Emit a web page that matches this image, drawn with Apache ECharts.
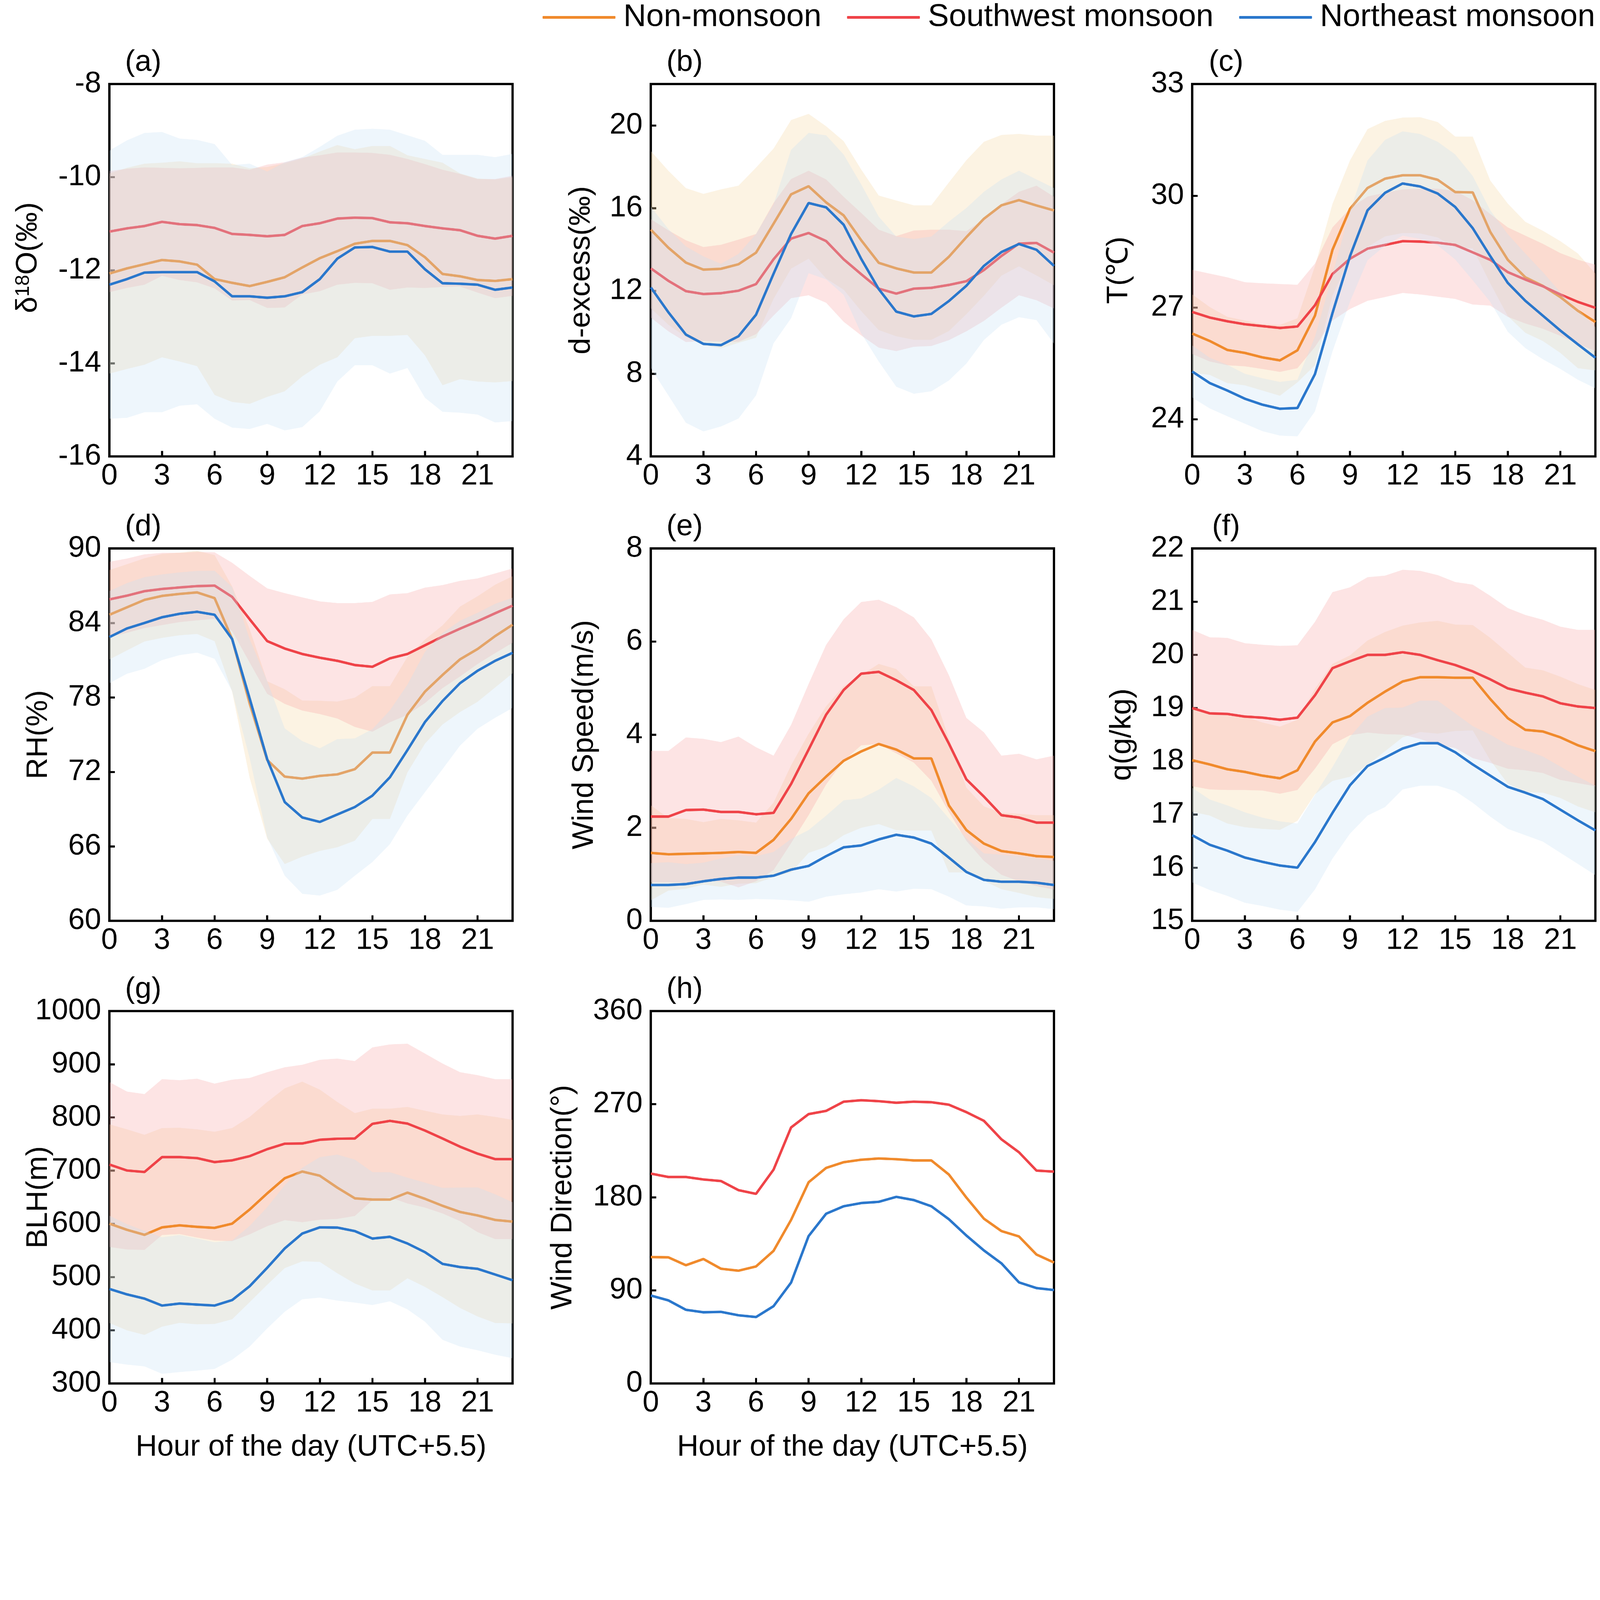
<!DOCTYPE html>
<html><head><meta charset="utf-8">
<script src="https://cdn.jsdelivr.net/npm/echarts@6/dist/echarts.min.js"></script>
<style>html,body{margin:0;padding:0;background:#fff;overflow:hidden}
#c{width:7004px;height:6436px;transform-origin:0 0;position:absolute;left:0;top:0}</style>
</head><body><div id="c"></div>
<script>
const hours = ['0','1','2','3','4','5','6','7','8','9','10','11','12','13','14','15','16','17','18','19','20','21','22','23'];
const seriesNames = ['Non-monsoon','Southwest monsoon','Northeast monsoon'];
const panelLetters = ['(a)','(b)','(c)','(d)','(e)','(f)','(g)','(h)'];

// (a) d18O
const aNon = [-12.07,-11.96,-11.87,-11.78,-11.81,-11.88,-12.19,-12.27,-12.34,-12.25,-12.15,-11.94,-11.74,-11.59,-11.43,-11.37,-11.37,-11.46,-11.72,-12.08,-12.13,-12.21,-12.23,-12.19];
const aSW  = [-11.17,-11.10,-11.05,-10.96,-11.01,-11.03,-11.09,-11.22,-11.24,-11.27,-11.24,-11.05,-10.99,-10.89,-10.87,-10.88,-10.97,-10.99,-11.05,-11.10,-11.14,-11.26,-11.32,-11.26];
const aNE  = [-12.31,-12.19,-12.05,-12.04,-12.04,-12.04,-12.24,-12.56,-12.56,-12.59,-12.56,-12.47,-12.19,-11.75,-11.51,-11.50,-11.60,-11.60,-11.98,-12.28,-12.29,-12.31,-12.42,-12.37];
const aNonSd = [2.15,2.16,2.16,2.09,2.15,2.18,2.49,2.56,2.53,2.47,2.45,2.34,2.29,2.28,2.03,2.04,2.04,1.93,2.11,2.39,2.21,2.18,2.18,2.19];
const aSWSd  = [1.30,1.28,1.26,1.16,1.20,1.23,1.30,1.43,1.40,1.54,1.56,1.47,1.46,1.42,1.40,1.40,1.45,1.38,1.33,1.26,1.21,1.22,1.28,1.29];
const aNESd  = [2.88,2.98,3.00,3.01,2.87,2.84,2.95,2.82,2.85,2.71,2.88,2.90,2.84,2.64,2.53,2.54,2.62,2.50,2.76,2.76,2.77,2.79,2.85,2.87];

// (b) d-excess
const bNon = [14.96,14.09,13.37,13.03,13.07,13.29,13.85,15.25,16.67,17.06,16.28,15.65,14.45,13.36,13.09,12.89,12.89,13.65,14.60,15.49,16.14,16.39,16.13,15.89];
const bSW  = [13.09,12.49,11.99,11.85,11.89,12.01,12.33,13.53,14.53,14.80,14.41,13.53,12.81,12.11,11.87,12.11,12.15,12.29,12.47,13.01,13.69,14.29,14.32,13.85];
const bNE  = [12.17,10.97,9.89,9.44,9.38,9.81,10.85,12.83,14.75,16.25,16.04,15.20,13.55,12.09,11.00,10.77,10.89,11.51,12.25,13.21,13.88,14.27,13.99,13.21];
const bNonSd = [3.80,3.72,3.60,3.66,3.84,3.80,4.11,3.63,3.59,3.50,3.68,3.59,3.42,3.25,3.28,3.25,3.25,3.59,3.72,3.72,3.40,3.20,3.38,3.62];
const bSWSd  = [2.38,2.44,2.46,2.27,2.34,2.47,2.42,2.72,2.88,3.01,2.98,3.02,2.96,2.85,2.78,2.81,2.81,2.67,2.42,2.46,2.50,2.50,2.77,2.70];
const bNESd  = [3.90,4.02,4.26,4.23,3.93,3.98,3.90,3.36,4.07,3.39,3.48,3.39,3.60,3.50,3.63,3.74,3.74,3.84,3.76,3.58,3.51,3.54,3.40,3.76];

// (c) T
const cNon = [26.30,26.10,25.86,25.78,25.66,25.58,25.85,26.78,28.55,29.65,30.21,30.46,30.55,30.55,30.43,30.10,30.09,29.03,28.28,27.81,27.58,27.28,26.91,26.61];
const cSW  = [26.88,26.73,26.63,26.55,26.50,26.45,26.49,27.06,27.90,28.31,28.58,28.68,28.78,28.77,28.74,28.68,28.48,28.28,27.95,27.75,27.57,27.35,27.15,26.99];
const cNE  = [25.28,24.97,24.77,24.55,24.39,24.28,24.30,25.21,26.85,28.38,29.61,30.08,30.33,30.25,30.06,29.70,29.13,28.38,27.66,27.18,26.78,26.38,26.01,25.65];
const cNonSd = [1.05,0.91,0.89,0.87,0.89,0.95,0.86,1.33,1.23,1.30,1.58,1.55,1.55,1.56,1.55,1.49,1.50,1.38,1.51,1.49,1.48,1.50,1.54,1.30];
const cSWSd  = [1.13,1.18,1.18,1.13,1.15,1.18,1.12,1.12,1.25,1.35,1.40,1.40,1.39,1.42,1.45,1.45,1.40,1.23,1.20,1.18,1.14,1.11,1.13,1.16];
const cNESd  = [0.70,0.68,0.69,0.67,0.71,0.72,0.76,1.00,1.03,1.22,1.34,1.42,1.40,1.41,1.39,1.41,1.40,1.23,1.31,1.27,1.17,1.03,0.95,0.82];

// (d) RH
const dNon = [84.66,85.26,85.86,86.18,86.34,86.46,86.00,82.70,77.51,72.96,71.62,71.46,71.68,71.80,72.22,73.56,73.56,76.61,78.47,79.81,81.07,81.90,82.94,83.86];
const dSW  = [85.90,86.20,86.56,86.74,86.86,86.97,87.01,86.10,84.30,82.54,81.94,81.50,81.20,80.95,80.61,80.47,81.15,81.50,82.20,82.90,83.54,84.14,84.78,85.40];
const dNE  = [82.86,83.56,84.00,84.46,84.74,84.90,84.66,82.70,77.91,73.02,69.57,68.33,67.97,68.57,69.17,70.09,71.57,73.76,76.02,77.71,79.15,80.15,80.95,81.60];
const dNonSd = [3.60,3.47,3.35,3.38,3.33,3.35,3.47,4.24,5.99,6.34,7.04,6.29,6.05,5.87,5.76,5.35,5.35,4.65,4.19,3.99,4.25,4.25,4.14,3.91];
const dSWSd  = [3.03,2.99,2.97,2.91,2.79,2.76,2.68,2.75,3.49,4.25,4.46,4.56,4.54,4.65,4.99,5.23,5.15,4.90,4.65,4.15,3.85,3.45,3.21,2.99];
const dNESd  = [3.71,3.65,3.69,3.45,3.33,3.29,3.55,4.19,4.79,6.29,5.93,6.15,5.93,6.07,5.53,5.35,5.39,5.27,5.65,5.49,5.03,4.67,4.59,4.44];

// (e) Wind speed
const eNon = [1.46,1.43,1.44,1.45,1.46,1.48,1.46,1.74,2.19,2.74,3.10,3.44,3.64,3.80,3.68,3.49,3.49,2.48,1.95,1.66,1.50,1.45,1.39,1.37];
const eSW  = [2.24,2.24,2.38,2.39,2.34,2.34,2.29,2.32,2.94,3.68,4.43,4.96,5.31,5.35,5.17,4.96,4.53,3.81,3.04,2.67,2.27,2.22,2.11,2.11];
const eNE  = [0.77,0.77,0.79,0.85,0.90,0.93,0.93,0.97,1.10,1.18,1.39,1.58,1.62,1.75,1.85,1.79,1.66,1.36,1.05,0.88,0.84,0.84,0.82,0.77];
const eNonSd = [1.02,0.78,0.75,0.67,0.73,0.68,0.65,0.80,1.15,1.28,1.51,1.60,1.64,1.72,1.73,1.55,1.55,1.44,0.91,0.80,0.82,0.85,0.88,0.90];
const eSWSd  = [1.41,1.41,1.56,1.52,1.50,1.62,1.44,1.23,1.27,1.41,1.50,1.52,1.54,1.55,1.57,1.56,1.52,1.47,1.32,1.38,1.28,1.37,1.36,1.44];
const eNESd  = [0.47,0.49,0.43,0.40,0.44,0.48,0.46,0.51,0.66,0.77,0.87,1.01,1.01,1.07,1.22,1.10,0.98,0.84,0.72,0.57,0.58,0.55,0.53,0.52];

// (f) q
const fNon = [18.02,17.94,17.85,17.80,17.73,17.68,17.83,18.37,18.73,18.85,19.10,19.31,19.50,19.58,19.58,19.57,19.57,19.17,18.81,18.59,18.56,18.45,18.30,18.19];
const fSW  = [19.00,18.90,18.89,18.84,18.82,18.78,18.82,19.24,19.75,19.88,20.00,20.00,20.05,20.00,19.90,19.81,19.69,19.54,19.37,19.29,19.22,19.09,19.03,19.00];
const fNE  = [16.61,16.43,16.32,16.19,16.11,16.04,16.00,16.48,17.03,17.55,17.91,18.07,18.24,18.34,18.34,18.17,17.94,17.73,17.52,17.41,17.29,17.09,16.89,16.70];
const fNonSd = [0.97,0.96,1.02,1.04,1.00,0.97,0.95,0.99,1.10,1.14,1.17,1.12,1.05,1.03,1.06,1.00,0.99,1.15,1.23,1.17,1.15,1.14,1.15,1.15];
const fSWSd  = [1.47,1.43,1.43,1.38,1.37,1.39,1.36,1.38,1.43,1.39,1.46,1.49,1.55,1.58,1.60,1.56,1.63,1.57,1.51,1.46,1.44,1.44,1.44,1.47];
const fNESd  = [0.89,0.85,0.85,0.85,0.83,0.83,0.83,0.89,0.86,0.91,0.93,0.93,0.77,0.80,0.80,0.73,0.72,0.77,0.79,0.80,0.80,0.81,0.82,0.84];

// (g) BLH
const gNon = [600.4,588.8,579.4,593.4,597.2,594.4,592.5,600.4,627.0,657.3,685.8,698.4,690.5,668.1,648.0,645.7,645.7,658.7,647.1,634.0,622.4,615.8,607.4,604.2];
const gSW  = [711.5,700.3,697.5,725.5,725.5,723.6,716.1,719.4,727.3,740.4,750.7,751.1,758.1,760.0,760.5,788.0,793.6,788.5,775.4,760.5,745.1,732.0,721.7,721.7];
const gNE  = [477.7,467.4,459.5,446.4,450.2,448.3,446.4,456.7,482.8,517.4,553.8,581.8,593.4,593.0,586.4,572.4,575.7,563.1,546.8,524.8,518.8,515.5,504.8,494.0];
const gNonSd = [186.7,188.9,188.1,186.7,183.3,183.3,180.6,179.7,174.1,171.8,168.9,168.9,161.9,161.0,160.1,170.8,170.8,161.0,165.6,171.7,180.5,189.9,193.7,191.3];
const gSWSd  = [154.9,148.4,146.5,146.5,144.6,149.3,147.5,151.7,147.0,144.7,143.7,148.0,150.3,150.7,145.6,143.7,143.7,150.2,144.7,140.9,140.0,147.5,150.3,150.3];
const gNESd  = [137.7,132.0,127.4,128.3,128.8,124.1,119.0,112.0,113.4,113.9,119.0,123.6,132.0,137.2,134.4,125.0,121.3,123.7,130.7,142.8,149.4,153.1,150.8,146.5];

// (h) Wind direction
const hNon = [122.2,121.9,114.3,120.3,110.9,109.0,113.1,128.2,158.1,194.5,208.4,213.9,216.3,217.5,216.8,215.6,215.6,202.0,179.7,159.3,147.3,142.1,124.6,116.9];
const hSW  = [202.9,199.6,199.6,197.2,195.7,186.9,183.3,206.7,247.5,260.4,263.5,272.4,273.8,272.9,271.4,272.4,271.9,269.5,262.3,253.9,236.0,223.5,205.8,204.8];
const hNE  = [85.0,80.3,71.2,68.8,69.2,65.9,64.2,74.7,97.5,142.5,164.1,171.3,174.4,175.6,180.4,177.3,171.3,158.8,143.0,128.6,116.1,97.7,92.2,90.3];

// y-axis tick labels
const aTicks = [-16,-14,-12,-10,-8];
const bTicks = [4,8,12,16,20];
const cTicks = [24,27,30,33];
const dTicks = [60,66,72,78,84,90];
const eTicks = [0,2,4,6,8];
const fTicks = [15,16,17,18,19,20,21,22];
const gTicks = [300,400,500,600,700,800,900,1000];
const hTicks = [0,90,180,270,360];

const FONT = '"Liberation Sans", Arial, sans-serif';
const LINE = {non:'#F08A2C', sw:'#EF4348', ne:'#2A77CC'};
const BAND = {non:'rgba(245,215,162,0.3)', sw:'rgba(248,165,165,0.3)', ne:'rgba(198,225,245,0.3)'};
// drawing order: Non band, SW band, Non line, SW line, NE band, NE line
const Z = {bandnon:1, bandsw:2, linenon:3, linesw:4, bandne:5, linene:6};

const panels = [
  {yName:'{n|δ}{s|18}{n|O(‰)}', namePad:[0,0,0,110], min:-16, max:-8, ticks:aTicks, nameGap:290, d:{non:aNon, sw:aSW, ne:aNE}, sd:{non:aNonSd, sw:aSWSd, ne:aNESd}},
  {yName:'d-excess(‰)', min:4, max:22, ticks:bTicks, nameGap:239, d:{non:bNon, sw:bSW, ne:bNE}, sd:{non:bNonSd, sw:bSWSd, ne:bNESd}},
  {yName:'T(℃)', min:23, max:33, ticks:cTicks, nameGap:255, d:{non:cNon, sw:cSW, ne:cNE}, sd:{non:cNonSd, sw:cSWSd, ne:cNESd}},
  {yName:'RH(%)', min:60, max:90, ticks:dTicks, nameGap:245, d:{non:dNon, sw:dSW, ne:dNE}, sd:{non:dNonSd, sw:dSWSd, ne:dNESd}},
  {yName:'Wind Speed(m/s)', min:0, max:8, ticks:eTicks, nameGap:225, d:{non:eNon, sw:eSW, ne:eNE}, sd:{non:eNonSd, sw:eSWSd, ne:eNESd}},
  {yName:'q(g/kg)', min:15, max:22, ticks:fTicks, nameGap:241, d:{non:fNon, sw:fSW, ne:fNE}, sd:{non:fNonSd, sw:fSWSd, ne:fNESd}},
  {yName:'BLH(m)', min:300, max:1000, ticks:gTicks, nameGap:245, d:{non:gNon, sw:gSW, ne:gNE}, sd:{non:gNonSd, sw:gSWSd, ne:gNESd}},
  {yName:'Wind Direction(°)', min:0, max:360, ticks:hTicks, nameGap:319, d:{non:hNon, sw:hSW, ne:hNE}, sd:null}
];

const colLeft = [479, 2849, 5219];
const rowTop = [368, 2401, 4426];
const W = 1765, H = 1630;
const keys = ['non','sw','ne'];

const grid = [], xAxis = [], yAxis = [], series = [], graphic = [];
const txt = {fontSize:130, fontFamily:FONT, color:'#000'};

panels.forEach((p, i) => {
  const left = colLeft[i % 3], top = rowTop[Math.floor(i / 3)];
  grid.push({left, top, width:W, height:H, show:true, borderColor:'#000', borderWidth:10,
    backgroundColor:'rgba(0,0,0,0)', containLabel:false, outerBoundsMode:'none'});
  xAxis.push({type:'category', gridIndex:i, data:hours, boundaryGap:false,
    axisLine:{show:true, lineStyle:{color:'#000', width:10}},
    axisTick:{show:true, inside:true, interval:2, length:24, lineStyle:{color:'#000', width:9}},
    axisLabel:Object.assign({interval:2, margin:22}, txt),
    splitLine:{show:false},
    name: i >= 6 ? 'Hour of the day (UTC+5.5)' : '',
    nameLocation:'middle', nameGap:215, nameMoveOverlap:false, nameTextStyle:txt});
  yAxis.push({type:'value', gridIndex:i, min:p.min, max:p.max,
    axisLine:{show:true, lineStyle:{color:'#000', width:10}},
    axisTick:{show:true, inside:true, length:24, customValues:p.ticks, lineStyle:{color:'#000', width:9}},
    axisLabel:Object.assign({margin:36, customValues:p.ticks, formatter:v => String(v)}, txt),
    splitLine:{show:false},
    name:p.yName, nameLocation:'middle', nameGap:p.nameGap, nameMoveOverlap:false,
    nameTextStyle:Object.assign({}, txt, {padding:p.namePad || 0, rich:{
      n:{fontSize:130, fontFamily:FONT, color:'#000'},
      s:{fontSize:86, fontFamily:FONT, color:'#000', verticalAlign:'top', lineHeight:130}
    }})});
  keys.forEach((k, j) => {
    series.push({type:'line', name:seriesNames[j], xAxisIndex:i, yAxisIndex:i, data:p.d[k],
      symbol:'none', z:Z['line' + k], lineStyle:{color:LINE[k], width:11}, itemStyle:{color:LINE[k]}, animation:false});
    if (p.sd) {
      const m = p.d[k], s = p.sd[k], st = 'band' + i + k;
      series.push({type:'line', name:'lo' + i + k, stack:st, stackStrategy:'all', xAxisIndex:i, yAxisIndex:i,
        data:m.map((v, q) => v - s[q]), symbol:'none', lineStyle:{opacity:0, width:0}, silent:true,
        z:Z['band' + k], animation:false});
      series.push({type:'line', name:'band' + i + k, stack:st, stackStrategy:'all', xAxisIndex:i, yAxisIndex:i,
        data:s.map(v => 2 * v), symbol:'none', lineStyle:{opacity:0, width:0},
        areaStyle:{color:BAND[k], opacity:1}, silent:true, z:Z['band' + k], animation:false});
    }
  });
  graphic.push({type:'text', x:left + 148, y:top - 94, z:10,
    style:{text:panelLetters[i], fontSize:130, fontFamily:FONT, fill:'#000', align:'center', verticalAlign:'middle',
      textAlign:'center', textVerticalAlign:'middle'}});
});

const el = document.getElementById('c');
const S = Math.min(window.innerWidth / 7004, window.innerHeight / 6436, 1);
el.style.transform = 'scale(' + S + ')';
const chart = echarts.init(el, null, {renderer:'canvas', width:7004, height:6436});
chart.setOption({
  backgroundColor:'#fff',
  animation:false,
  legend:{data:seriesNames, left:2370, top:2, itemWidth:319, itemHeight:12, itemGap:112, icon:'roundRect',
    selectedMode:false, textStyle:{fontSize:138, fontFamily:FONT, color:'#000', padding:[0,0,0,30]}},
  grid, xAxis, yAxis, series, graphic
});
</script></body></html>
